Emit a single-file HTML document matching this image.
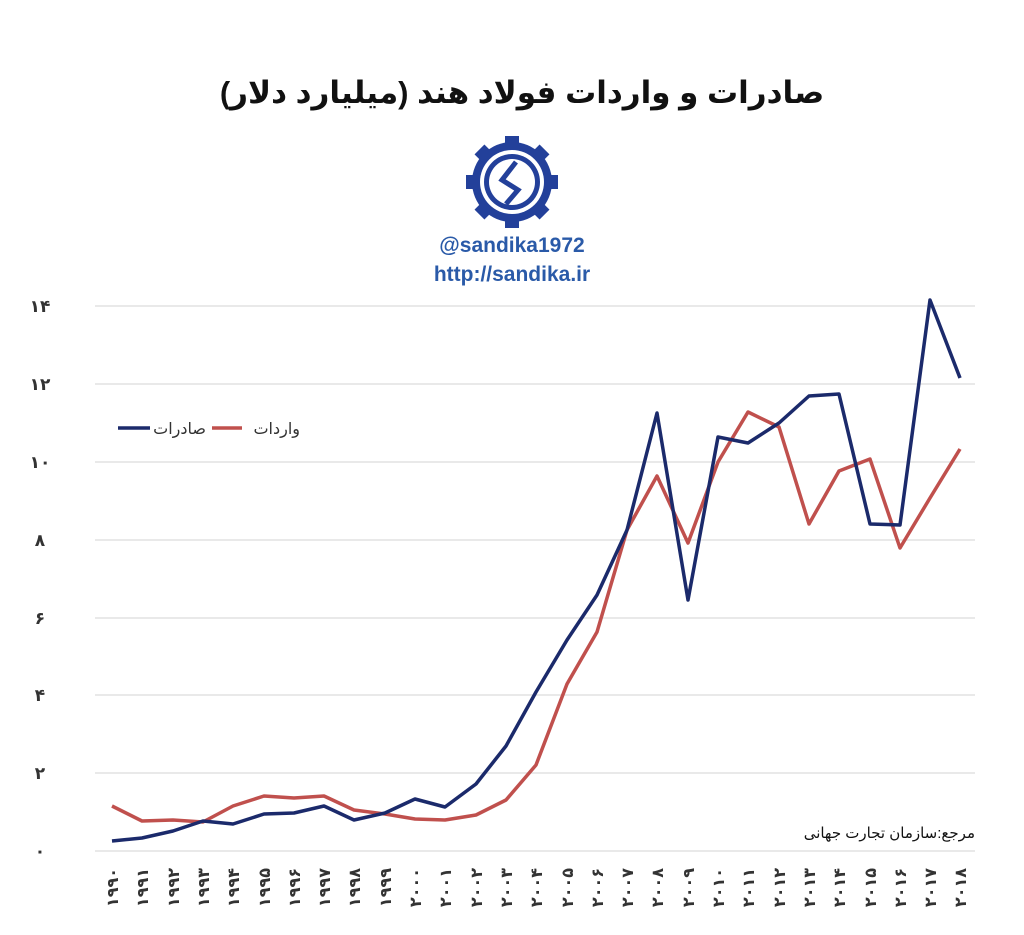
<!DOCTYPE html>
<html><head><meta charset="utf-8"><style>
body{margin:0;background:#fff;width:1024px;height:930px;overflow:hidden}
svg text{font-family:"Liberation Sans","DejaVu Sans",sans-serif}
</style></head><body>
<svg width="1024" height="930" viewBox="0 0 1024 930" xmlns="http://www.w3.org/2000/svg">
<text x="522" y="103" text-anchor="middle" font-size="31" font-weight="bold" fill="#111" font-family="DejaVu Sans,sans-serif">صادرات و واردات فولاد هند (میلیارد دلار)</text>
<g transform="translate(512,182)">
<circle r="40" fill="#23409a"/>
<g fill="#23409a"><rect x="-7" y="-46" width="14" height="92"/><rect x="-7" y="-46" width="14" height="92" transform="rotate(45)"/><rect x="-7" y="-46" width="14" height="92" transform="rotate(90)"/><rect x="-7" y="-46" width="14" height="92" transform="rotate(135)"/></g>
<circle r="32" fill="#fff"/><circle r="28" fill="#23409a"/><circle r="23" fill="#fff"/>
<path d="M4,-20 L-10,-2 L6,8 L-6,22" stroke="#23409a" stroke-width="5" fill="none"/>
</g>
<text x="512" y="252" text-anchor="middle" font-size="21" font-weight="bold" fill="#2a5aa8">@sandika1972</text>
<text x="512" y="281" text-anchor="middle" font-size="21" font-weight="bold" fill="#2a5aa8">http://sandika.ir</text>
<g stroke="#dcdcdc" stroke-width="1.3">
<line x1="95" x2="975" y1="306" y2="306"/><line x1="95" x2="975" y1="384" y2="384"/><line x1="95" x2="975" y1="462" y2="462"/><line x1="95" x2="975" y1="540" y2="540"/><line x1="95" x2="975" y1="618" y2="618"/><line x1="95" x2="975" y1="695" y2="695"/><line x1="95" x2="975" y1="773" y2="773"/><line x1="95" x2="975" y1="851" y2="851"/>
</g>
<g font-size="17" fill="#333" text-anchor="middle" font-family="DejaVu Sans,sans-serif" font-weight="bold">
<text x="40" y="312">۱۴</text><text x="40" y="390">۱۲</text><text x="40" y="468">۱۰</text><text x="40" y="546">۸</text><text x="40" y="624">۶</text><text x="40" y="701">۴</text><text x="40" y="779">۲</text><text x="40" y="857">۰</text>
</g>
<polyline fill="none" stroke="#c0504d" stroke-width="3.5" stroke-linejoin="round" points="112,806 142,821 173,820 203,822 233,806 264,796 294,798 324,796 354,810 385,814 415,819 445,820 476,815 506,800 536,765 567,684 597,632 627,530 657,476 688,543 718,462 748,412 779,427 809,524 839,471 870,459 900,548 930,498 960,449"/>
<polyline fill="none" stroke="#1b2a6b" stroke-width="3.5" stroke-linejoin="round" points="112,841 142,838 173,831 203,821 233,824 264,814 294,813 324,806 354,820 385,813 415,799 445,807 476,784 506,746 536,692 567,640 597,595 627,530 657,413 688,600 718,437 748,443 779,423 809,396 839,394 870,524 900,525 930,300 960,378"/>
<line x1="118" x2="150" y1="428" y2="428" stroke="#1b2a6b" stroke-width="3.5"/>
<text x="206" y="434" font-size="16" fill="#333" text-anchor="end" font-family="DejaVu Sans,sans-serif">صادرات</text>
<line x1="212" x2="242" y1="428" y2="428" stroke="#c0504d" stroke-width="3.5"/>
<text x="300" y="434" font-size="16" fill="#333" text-anchor="end" font-family="DejaVu Sans,sans-serif">واردات</text>
<text x="975" y="838" font-size="15" fill="#111" text-anchor="end" font-family="DejaVu Sans,sans-serif">مرجع:سازمان تجارت جهانی</text>
<g font-size="16" fill="#333" font-weight="bold" font-family="DejaVu Sans,sans-serif" text-anchor="end">
<text transform="translate(118,868) rotate(-90)">۱۹۹۰</text><text transform="translate(148,868) rotate(-90)">۱۹۹۱</text><text transform="translate(179,868) rotate(-90)">۱۹۹۲</text><text transform="translate(209,868) rotate(-90)">۱۹۹۳</text><text transform="translate(239,868) rotate(-90)">۱۹۹۴</text><text transform="translate(270,868) rotate(-90)">۱۹۹۵</text><text transform="translate(300,868) rotate(-90)">۱۹۹۶</text><text transform="translate(330,868) rotate(-90)">۱۹۹۷</text><text transform="translate(360,868) rotate(-90)">۱۹۹۸</text><text transform="translate(391,868) rotate(-90)">۱۹۹۹</text><text transform="translate(421,868) rotate(-90)">۲۰۰۰</text><text transform="translate(451,868) rotate(-90)">۲۰۰۱</text><text transform="translate(482,868) rotate(-90)">۲۰۰۲</text><text transform="translate(512,868) rotate(-90)">۲۰۰۳</text><text transform="translate(542,868) rotate(-90)">۲۰۰۴</text><text transform="translate(573,868) rotate(-90)">۲۰۰۵</text><text transform="translate(603,868) rotate(-90)">۲۰۰۶</text><text transform="translate(633,868) rotate(-90)">۲۰۰۷</text><text transform="translate(663,868) rotate(-90)">۲۰۰۸</text><text transform="translate(694,868) rotate(-90)">۲۰۰۹</text><text transform="translate(724,868) rotate(-90)">۲۰۱۰</text><text transform="translate(754,868) rotate(-90)">۲۰۱۱</text><text transform="translate(785,868) rotate(-90)">۲۰۱۲</text><text transform="translate(815,868) rotate(-90)">۲۰۱۳</text><text transform="translate(845,868) rotate(-90)">۲۰۱۴</text><text transform="translate(876,868) rotate(-90)">۲۰۱۵</text><text transform="translate(906,868) rotate(-90)">۲۰۱۶</text><text transform="translate(936,868) rotate(-90)">۲۰۱۷</text><text transform="translate(966,868) rotate(-90)">۲۰۱۸</text>
</g>
</svg>
</body></html>
